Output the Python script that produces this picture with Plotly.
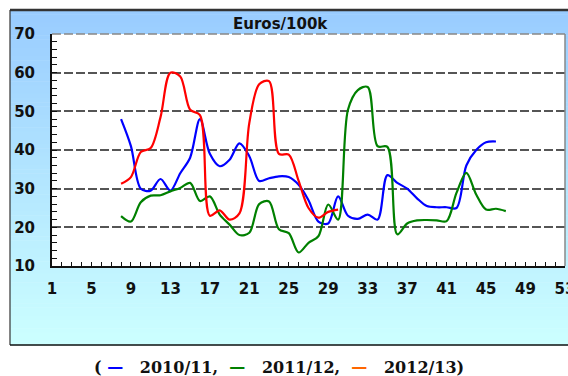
import plotly.graph_objects as go

# Weekly price series (Euros per 100 kg)
weeks_1011 = list(range(8, 47))
price_1011 = [48, 41, 30, 29.5, 32.5, 29.5, 34, 38, 48, 39, 35.8, 37.5, 41.7, 38.4,
              32, 32.7, 33.2, 33, 31, 27, 21.5, 21, 28, 23, 22.2, 23.3, 22, 33.5,
              31.5, 30, 27.5, 25.5, 25.2, 25.2, 25, 36, 40, 42, 42.2]

weeks_1112 = list(range(8, 48))
price_1112 = [22.9, 21.5, 26.5, 28.2, 28.3, 29.3, 30.2, 31.5, 26.8, 28, 23.3, 20.7,
              18, 18.6, 26, 26.7, 19.5, 18.5, 13.5, 16, 17.7, 25.9, 22, 50.4, 55.5,
              56.3, 41, 40.8, 18.2, 21, 21.8, 21.9, 21.8, 21.6, 28.9, 34.1, 28.5,
              24.6, 24.8, 24.2]

weeks_1213 = list(range(8, 31))
price_1213 = [31.3, 33, 39.5, 40.5, 48.5, 60, 59, 50.4, 49, 23, 24.4, 22, 23.6, 47,
              57, 57.8, 39, 38.8, 32, 25, 22.5, 24, 24.6]

season_names = ["2010/11", "2011/12", "2012/13"]
x_ticks = list(range(1, 54, 4))
y_ticks = list(range(10, 71, 10))

W, H = 568, 376
ML, MR, MT, MB = 52, 3, 34, 110
pw, ph = W - ML - MR, H - MT - MB


def px_x(p):
    return (p - ML) / pw


def px_y(p):
    return (H - MB - p) / ph


fig = go.Figure()
series = [(weeks_1011, price_1011, "#0000ff"),
          (weeks_1112, price_1112, "#008000"),
          (weeks_1213, price_1213, "#ff0000")]
for (wk, pr, col), name in zip(series, season_names):
    fig.add_trace(go.Scatter(x=wk, y=pr, mode="lines", name=name,
                             line=dict(color=col, width=2.2, shape="spline", smoothing=0.9),
                             hoverinfo="skip"))

# Gradient panel behind the chart
shapes = []
top_px, bot_px = 10, 345
n = 80
c0, c1 = (153, 204, 255), (204, 255, 255)
for i in range(n):
    t = i / (n - 1)
    col = tuple(round(a + (b - a) * t) for a, b in zip(c0, c1))
    y0 = top_px + (bot_px - top_px) * i / n
    y1 = top_px + (bot_px - top_px) * (i + 1) / n + 0.5
    shapes.append(dict(type="rect", xref="paper", yref="paper", layer="below",
                       x0=px_x(10), x1=px_x(575), y0=px_y(y1), y1=px_y(y0),
                       line=dict(width=0), fillcolor="rgb(%d,%d,%d)" % col))
# White plotting area
shapes.append(dict(type="rect", xref="paper", yref="paper", layer="below",
                   x0=0, x1=1, y0=0, y1=1, line=dict(width=0), fillcolor="white"))
# Panel frame
shapes.append(dict(type="line", xref="paper", yref="paper", x0=px_x(10), x1=px_x(575),
                   y0=px_y(10), y1=px_y(10), line=dict(color="#333333", width=2.5)))
shapes.append(dict(type="line", xref="paper", yref="paper", x0=px_x(10), x1=px_x(10),
                   y0=px_y(10), y1=px_y(345), line=dict(color="#333333", width=1.2)))
shapes.append(dict(type="line", xref="paper", yref="paper", x0=px_x(10), x1=px_x(575),
                   y0=px_y(345), y1=px_y(345), line=dict(color="#111111", width=1.5)))
# Top and right edges of plotting area
shapes.append(dict(type="line", xref="paper", yref="paper", x0=0, x1=1, y0=1, y1=1,
                   line=dict(color="#888888", width=1.5, dash="9px,3px")))
shapes.append(dict(type="line", xref="paper", yref="paper", x0=1, x1=1, y0=0, y1=1,
                   line=dict(color="#888888", width=1.5)))

tick_font = dict(family="DejaVu Sans", size=15, color="#111111", weight="bold")

fig.update_layout(
    width=W, height=H,
    margin=dict(l=ML, r=MR, t=MT, b=MB),
    paper_bgcolor="white",
    plot_bgcolor="rgba(0,0,0,0)",
    showlegend=False,
    shapes=shapes,
    xaxis=dict(range=[1, 53], tickvals=x_ticks, ticks="inside", ticklen=4, tickwidth=1,
               tickcolor="#111111", showgrid=False, zeroline=False, showline=True,
               linecolor="#111111", linewidth=2, tickfont=tick_font,
               ticklabelstandoff=8, automargin=False, ticklabeloverflow="allow",
               minor=dict(dtick=1, tick0=1, ticks="inside", ticklen=4, tickcolor="#111111",
                          showgrid=False)),
    yaxis=dict(range=[10, 70], tickvals=y_ticks, ticks="inside", ticklen=5, tickwidth=1,
               tickcolor="#111111", showgrid=True, gridcolor="#555555", gridwidth=1.5,
               griddash="9px,3px", zeroline=False, showline=True, linecolor="#111111",
               linewidth=2, tickfont=tick_font, ticklabelstandoff=12, automargin=False,
               minor=dict(dtick=2, tick0=10, ticks="inside", ticklen=5, tickcolor="#111111",
                          showgrid=False)),
)

fig.add_annotation(xref="paper", yref="paper", x=px_x(280), y=px_y(24),
                   xanchor="center", yanchor="middle",
                   text="Euros/100k", showarrow=False,
                   font=dict(family="DejaVu Sans", size=15, color="#111111", weight="bold"))

legend_colors = ["#0000ff", "#008000", "#ff6600"]
parts = []
for i, (name, col) in enumerate(zip(season_names, legend_colors)):
    sep = ")" if i == len(season_names) - 1 else ",&nbsp;&nbsp;"
    parts.append('<span style="color:%s">—</span>&nbsp;&nbsp;&nbsp;%s%s' % (col, name, sep))
fig.add_annotation(xref="paper", yref="paper", x=px_x(279), y=px_y(367),
                   xanchor="center", yanchor="middle",
                   text="(&nbsp;" + "".join(parts), showarrow=False,
                   font=dict(family="DejaVu Serif", size=16, color="#111111", weight="bold"))

fig.write_html("out.html")
